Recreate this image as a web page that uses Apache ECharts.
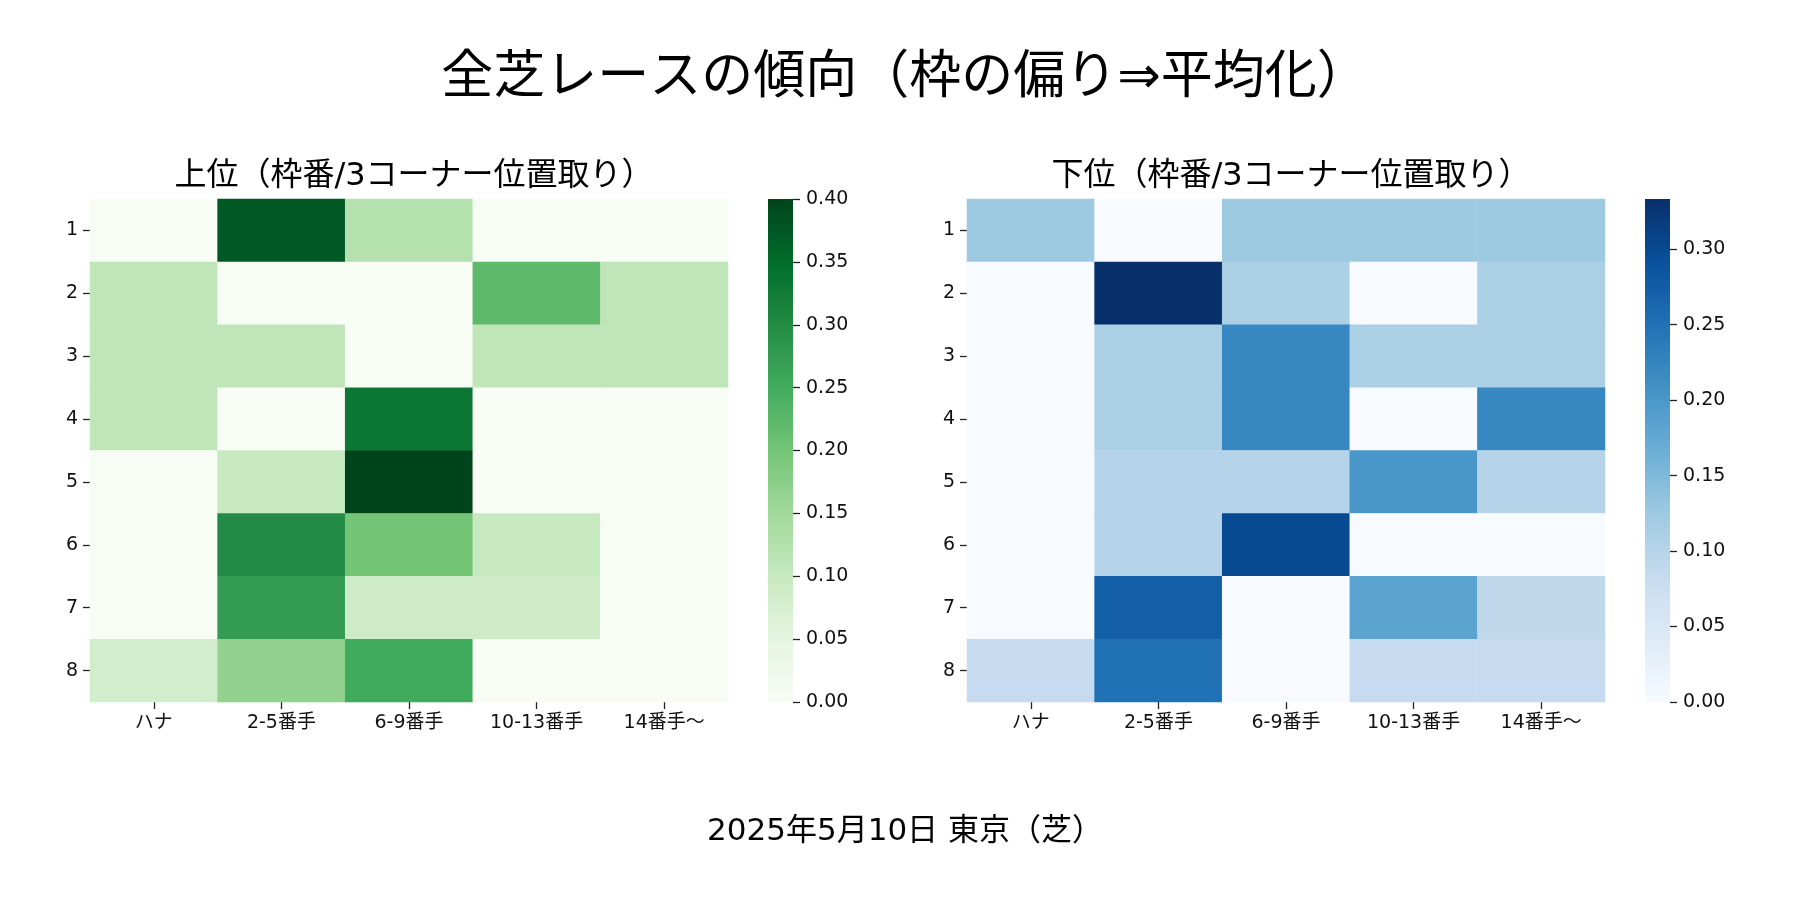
<!DOCTYPE html>
<html>
<head>
<meta charset="utf-8">
<script src="https://cdn.jsdelivr.net/npm/echarts@6/dist/echarts.min.js"></script>
<style>
  html, body { margin: 0; padding: 0; background: #fff; }
  #chart { width: 1800px; height: 900px; }
</style>
</head>
<body>
<div id="chart"></div>
<script>
// 枠番 (rows) x 3コーナー位置取り (columns)
const rowLabels = ['1', '2', '3', '4', '5', '6', '7', '8'];
const colLabels = ['ハナ', '2-5番手', '6-9番手', '10-13番手', '14番手～'];

// 上位 share per cell
const upper = [
  [0, 0.375, 0.125, 0, 0],
  [0.111, 0, 0, 0.222, 0.111],
  [0.111, 0.111, 0, 0.111, 0.111],
  [0.111, 0, 0.333, 0, 0],
  [0, 0.1, 0.4, 0, 0],
  [0, 0.3, 0.2, 0.1, 0],
  [0, 0.273, 0.091, 0.091, 0],
  [0.083, 0.167, 0.25, 0, 0]
];

// 下位 share per cell
const lower = [
  [0.125, 0, 0.125, 0.125, 0.125],
  [0, 0.333, 0.111, 0, 0.111],
  [0, 0.111, 0.222, 0.111, 0.111],
  [0, 0.111, 0.222, 0, 0.222],
  [0, 0.1, 0.1, 0.2, 0.1],
  [0, 0.1, 0.3, 0, 0],
  [0, 0.273, 0, 0.182, 0.091],
  [0.083, 0.25, 0, 0.083, 0.083]
];

const upperMax = 0.4;
const lowerMax = 0.3333;
const upperTicks = [0, 0.05, 0.1, 0.15, 0.2, 0.25, 0.3, 0.35, 0.4];
const lowerTicks = [0, 0.05, 0.1, 0.15, 0.2, 0.25, 0.3];

// matplotlib Greens / Blues
const greens = ['#f7fcf5', '#e5f5e0', '#c7e9c0', '#a1d99b', '#74c476', '#41ab5d', '#238b45', '#006d2c', '#00441b'];
const blues = ['#f7fbff', '#deebf7', '#c6dbef', '#9ecae1', '#6baed6', '#4292c6', '#2171b5', '#08519c', '#08306b'];

const FONT = '"DejaVu Sans", "Noto Sans CJK JP", sans-serif';

function toCells(rows) {
  const out = [];
  rows.forEach(function (row, y) {
    row.forEach(function (v, x) {
      out.push([x, y, v]);
    });
  });
  return out;
}

function gradient(colors) {
  const n = colors.length - 1;
  return new echarts.graphic.LinearGradient(0, 0, 0, 1,
    colors.slice().reverse().map(function (c, i) {
      return { offset: i / n, color: c };
    }));
}

const tickStyle = { color: '#222', width: 1.3 };
const labelStyle = { color: '#111', fontSize: 19, fontFamily: FONT };

function catX(gridIndex) {
  return {
    type: 'category', gridIndex: gridIndex, data: colLabels, position: 'bottom',
    axisLine: { show: false },
    axisTick: { show: true, alignWithLabel: true, length: 7, lineStyle: tickStyle },
    axisLabel: Object.assign({ margin: 12 }, labelStyle),
    splitLine: { show: false }
  };
}

function catY(gridIndex) {
  return {
    type: 'category', gridIndex: gridIndex, data: rowLabels, inverse: true,
    axisLine: { show: false },
    axisTick: { show: true, alignWithLabel: true, length: 7, lineStyle: tickStyle },
    axisLabel: Object.assign({ margin: 12 }, labelStyle),
    splitLine: { show: false }
  };
}

function barX(gridIndex) {
  return {
    type: 'category', gridIndex: gridIndex, data: ['c'], show: false
  };
}

function barY(gridIndex, max, ticks) {
  return {
    type: 'value', gridIndex: gridIndex, min: 0, max: max, position: 'right',
    axisLine: { show: false },
    axisTick: { show: true, length: 7, lineStyle: tickStyle, customValues: ticks },
    axisLabel: Object.assign({
      margin: 13, customValues: ticks,
      formatter: function (v) { return v.toFixed(2); }
    }, labelStyle),
    splitLine: { show: false }
  };
}

const chart = echarts.init(document.getElementById('chart'));

chart.setOption({
  animation: false,
  backgroundColor: '#fff',
  title: [
    {
      text: '全芝レースの傾向（枠の偏り⇒平均化）',
      left: 900, top: 48, textAlign: 'center',
      textStyle: { fontSize: 52, fontWeight: 'normal', color: '#000', fontFamily: FONT }
    },
    {
      text: '上位（枠番/3コーナー位置取り）',
      left: 409, top: 156, textAlign: 'center',
      textStyle: { fontSize: 32, fontWeight: 'normal', color: '#000', fontFamily: FONT }
    },
    {
      text: '下位（枠番/3コーナー位置取り）',
      left: 1286, top: 156, textAlign: 'center',
      textStyle: { fontSize: 32, fontWeight: 'normal', color: '#000', fontFamily: FONT }
    },
    {
      text: '2025年5月10日 東京（芝）',
      left: 900, top: 811, textAlign: 'center',
      textStyle: { fontSize: 31, fontWeight: 'normal', color: '#000', fontFamily: FONT }
    }
  ],
  grid: [
    { left: 90, top: 199, width: 638, height: 503 },
    { left: 768, top: 199, width: 25, height: 503 },
    { left: 967, top: 199, width: 638, height: 503 },
    { left: 1645, top: 199, width: 25, height: 503 }
  ],
  xAxis: [catX(0), barX(1), catX(2), barX(3)],
  yAxis: [catY(0), barY(1, upperMax, upperTicks), catY(2), barY(3, lowerMax, lowerTicks)],
  visualMap: [
    {
      show: false, seriesIndex: 0, min: 0, max: upperMax,
      inRange: { color: greens }
    },
    {
      show: false, seriesIndex: 2, min: 0, max: lowerMax,
      inRange: { color: blues }
    }
  ],
  series: [
    {
      name: '上位', type: 'heatmap', xAxisIndex: 0, yAxisIndex: 0,
      data: toCells(upper),
      itemStyle: { borderWidth: 0 },
      emphasis: { disabled: true }
    },
    {
      type: 'bar', xAxisIndex: 1, yAxisIndex: 1, data: [upperMax],
      barWidth: '100%', silent: true,
      itemStyle: { color: gradient(greens) }
    },
    {
      name: '下位', type: 'heatmap', xAxisIndex: 2, yAxisIndex: 2,
      data: toCells(lower),
      itemStyle: { borderWidth: 0 },
      emphasis: { disabled: true }
    },
    {
      type: 'bar', xAxisIndex: 3, yAxisIndex: 3, data: [lowerMax],
      barWidth: '100%', silent: true,
      itemStyle: { color: gradient(blues) }
    }
  ]
});
</script>
</body>
</html>
